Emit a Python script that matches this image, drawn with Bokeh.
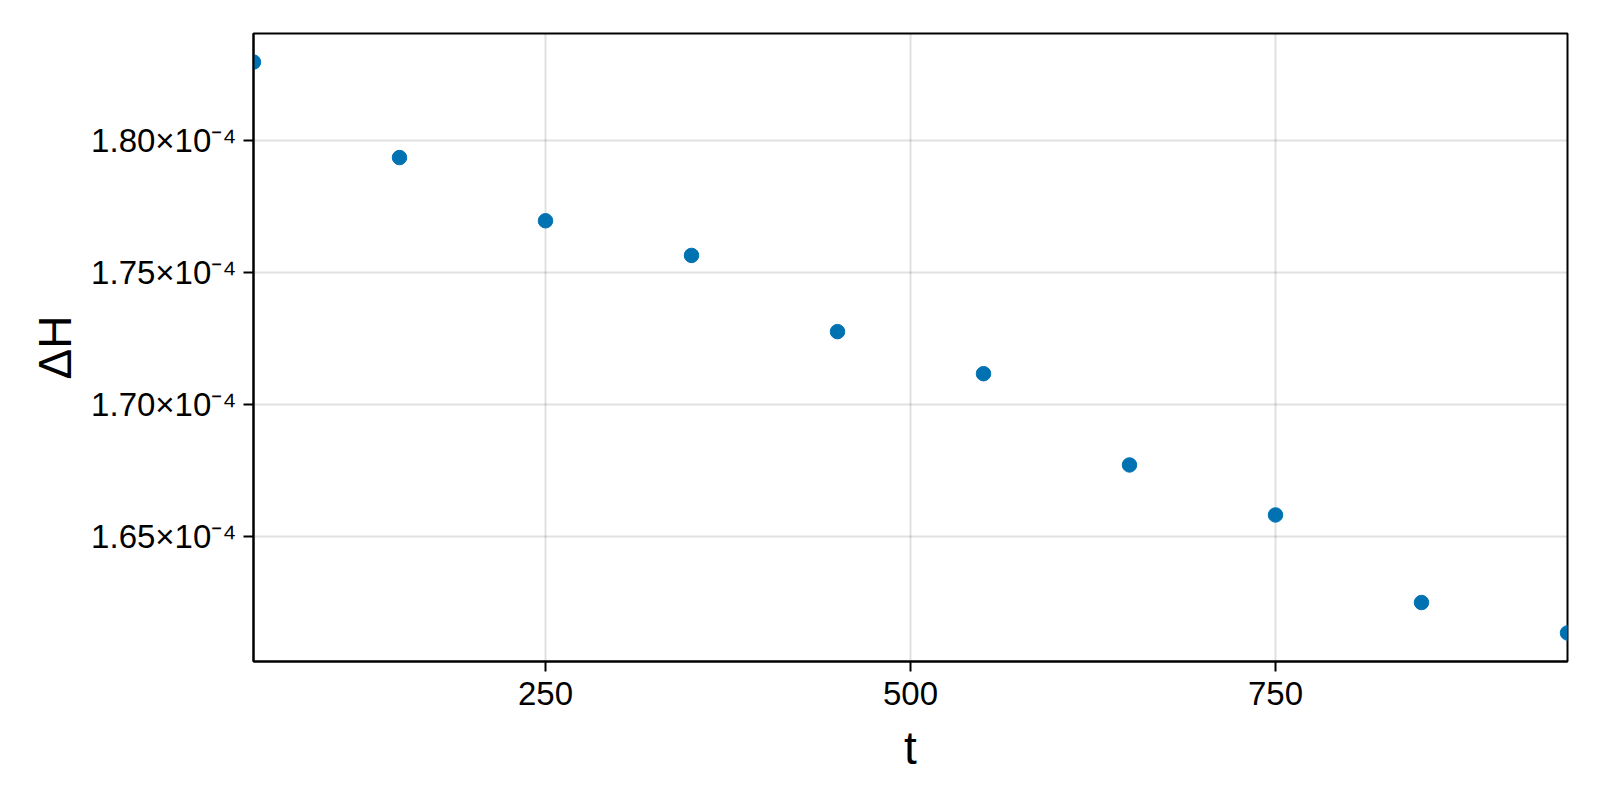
from bokeh.plotting import figure
from bokeh.models import Range1d, FixedTicker, ColumnDataSource
from bokeh.embed import file_html
from bokeh.resources import INLINE

# ---- data ----
t_values = [50, 150, 250, 350, 450, 550, 650, 750, 850, 950]
dH_values = [1.8295e-4, 1.7934e-4, 1.7695e-4, 1.7564e-4, 1.7276e-4,
             1.7117e-4, 1.6772e-4, 1.6583e-4, 1.6252e-4, 1.6137e-4]
x_ticks = [250, 500, 750]
y_ticks = [1.65e-4, 1.70e-4, 1.75e-4, 1.80e-4]
y_tick_labels = ["1.65×10⁻⁴", "1.70×10⁻⁴", "1.75×10⁻⁴", "1.80×10⁻⁴"]
x_label = "t"
y_label = "ΔH"

FONT = "Liberation Sans"
COLOR = "#0072B2"

ymin, ymax = min(dH_values), max(dH_values)
pad = 0.05 * (ymax - ymin)

p = figure(width=1584, height=784, output_backend="svg", toolbar_location=None,
           x_range=Range1d(min(t_values), max(t_values)),
           y_range=Range1d(ymin - pad, ymax + pad),
           min_border_left=253, min_border_right=17, min_border_top=33,
           min_border_bottom=123)

src = ColumnDataSource(dict(t=t_values, dH=dH_values))
p.scatter("t", "dH", source=src, size=14.5, color=COLOR, line_color=COLOR)

p.background_fill_color = "white"
p.border_fill_color = "white"
p.outline_line_color = "black"
p.outline_line_width = 2

p.xaxis.ticker = FixedTicker(ticks=x_ticks, minor_ticks=[])
p.yaxis.ticker = FixedTicker(ticks=y_ticks, minor_ticks=[])
p.yaxis.major_label_overrides = {v: s for v, s in zip(y_ticks, y_tick_labels)}

for ax in (p.xaxis, p.yaxis):
    ax.axis_line_color = "black"
    ax.axis_line_width = 2
    ax.major_tick_line_color = "black"
    ax.major_tick_line_width = 2
    ax.major_tick_out = 10
    ax.major_tick_in = 0
    ax.minor_tick_line_color = None
    ax.major_label_text_font = FONT
    ax.major_label_text_font_size = "33px"
    ax.major_label_text_color = "black"
    ax.axis_label_text_font = FONT
    ax.axis_label_text_font_size = "46px"
    ax.axis_label_text_font_style = "normal"
    ax.axis_label_text_color = "black"

p.xaxis.axis_label = x_label
p.yaxis.axis_label = y_label
p.xaxis.major_label_standoff = 10
p.yaxis.major_label_standoff = 7
p.xaxis.axis_label_standoff = 14
p.yaxis.axis_label_standoff = 7

for g in (p.xgrid, p.ygrid):
    g.grid_line_color = "black"
    g.grid_line_alpha = 0.12
    g.grid_line_width = 2
p.xgrid.ticker = FixedTicker(ticks=x_ticks)
p.ygrid.ticker = FixedTicker(ticks=y_ticks)

open("out.html", "w").write(file_html(p, INLINE))
